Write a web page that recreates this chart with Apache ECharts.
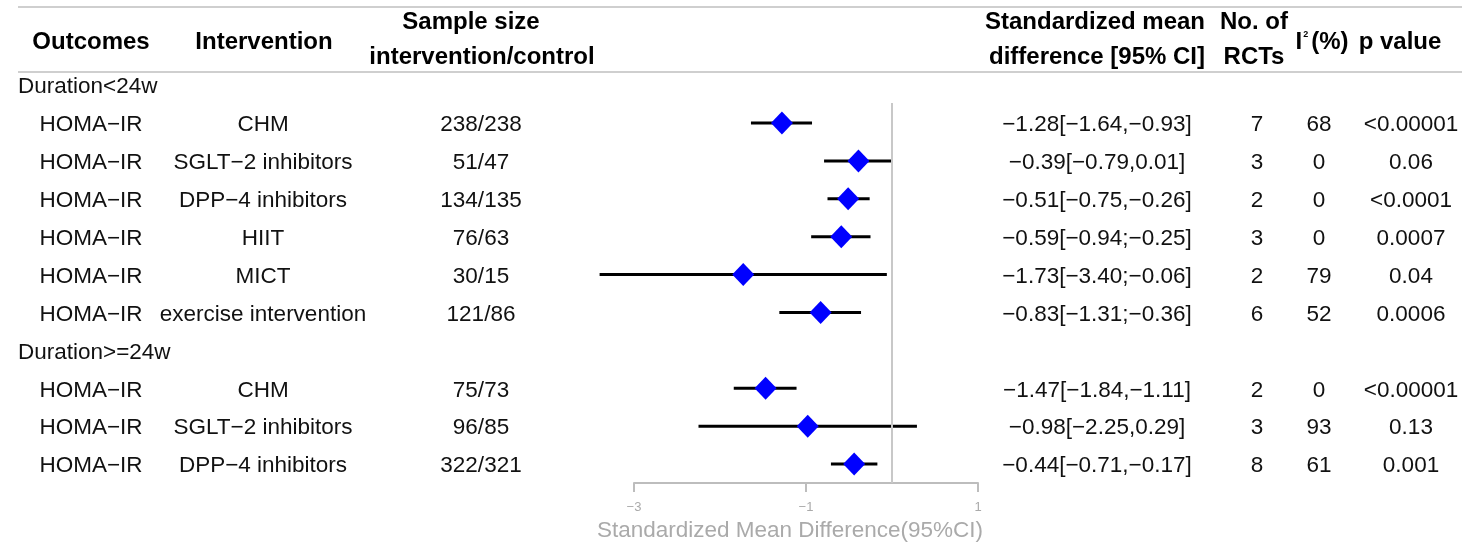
<!DOCTYPE html>
<html>
<head>
<meta charset="utf-8">
<script src="https://cdn.jsdelivr.net/npm/echarts@6/dist/echarts.min.js"></script>
<style>
html,body{margin:0;padding:0;background:#fff;}
#chart{width:1463px;height:542px;}
</style>
</head>
<body>
<div id="chart"></div>
<script>
// ---------- data ----------
const groups = ['Duration<24w', 'Duration>=24w'];
const groupSizes = [6, 3];
const outcomes = ['HOMA−IR','HOMA−IR','HOMA−IR','HOMA−IR','HOMA−IR','HOMA−IR','HOMA−IR','HOMA−IR','HOMA−IR'];
const interventions = ['CHM','SGLT−2 inhibitors','DPP−4 inhibitors','HIIT','MICT','exercise intervention','CHM','SGLT−2 inhibitors','DPP−4 inhibitors'];
const sampleSizes = ['238/238','51/47','134/135','76/63','30/15','121/86','75/73','96/85','322/321'];
const smd = [-1.28,-0.39,-0.51,-0.59,-1.73,-0.83,-1.47,-0.98,-0.44];
const ciLow = [-1.64,-0.79,-0.75,-0.94,-3.40,-1.31,-1.84,-2.25,-0.71];
const ciHigh = [-0.93,0.01,-0.26,-0.25,-0.06,-0.36,-1.11,0.29,-0.17];
const ciText = ['−1.28[−1.64,−0.93]','−0.39[−0.79,0.01]','−0.51[−0.75,−0.26]','−0.59[−0.94;−0.25]','−1.73[−3.40;−0.06]','−0.83[−1.31;−0.36]','−1.47[−1.84,−1.11]','−0.98[−2.25,0.29]','−0.44[−0.71,−0.17]'];
const rcts = ['7','3','2','3','2','6','2','3','8'];
const i2 = ['68','0','0','0','79','52','0','93','61'];
const pValues = ['<0.00001','0.06','<0.0001','0.0007','0.04','0.0006','<0.00001','0.13','0.001'];
const xTicks = [-3, -1, 1];
const axisTitle = 'Standardized Mean Difference(95%CI)';

// ---------- row layout ----------
const groupRows = [];
const dataRows = [];
let r = 0;
groupSizes.forEach((n) => { groupRows.push(r); r++; for (let k = 0; k < n; k++) { dataRows.push(r); r++; } });

const FONT = '"Liberation Sans", Arial, Helvetica, sans-serif';
const GRID_TOP = 103, GRID_BOTTOM_Y = 483, FIRST_ROW_Y = 123, ROW_STEP = 37.9;
const yMin = 1 - (FIRST_ROW_Y - GRID_TOP) / ROW_STEP;
const yMax = 1 + (GRID_BOTTOM_Y - FIRST_ROW_Y) / ROW_STEP;
const TEXT_DY = 2;

function textSeries(rows, texts, x, align, fontSize, color) {
  return {
    type: 'custom',
    coordinateSystem: 'cartesian2d',
    silent: true,
    clip: false,
    z: 5,
    data: rows.map((row) => [0, row]),
    renderItem: function (params, api) {
      const y = api.coord([0, api.value(1)])[1] + TEXT_DY;
      return {
        type: 'text',
        x: x, y: y,
        style: {
          text: texts[params.dataIndex],
          textAlign: align,
          textVerticalAlign: 'middle',
          font: fontSize + 'px ' + FONT,
          fill: color || '#111'
        }
      };
    }
  };
}

const BODY = 22.5;

const series = [
  // CI lines
  {
    type: 'custom',
    coordinateSystem: 'cartesian2d',
    silent: true,
    clip: false,
    z: 3,
    data: dataRows.map((row, i) => [ciLow[i], ciHigh[i], row]),
    renderItem: function (params, api) {
      const p1 = api.coord([api.value(0), api.value(2)]);
      const p2 = api.coord([api.value(1), api.value(2)]);
      return {
        type: 'line',
        shape: { x1: p1[0], y1: p1[1], x2: p2[0], y2: p2[1] },
        style: { stroke: '#000', lineWidth: 3 }
      };
    }
  },
  // point estimates
  {
    type: 'scatter',
    silent: true,
    z: 4,
    symbol: 'diamond',
    symbolSize: [22, 23],
    itemStyle: { color: '#0000FF', opacity: 1 },
    data: dataRows.map((row, i) => [smd[i], row]),
    markLine: {
      silent: true,
      symbol: 'none',
      label: { show: false },
      lineStyle: { color: '#c8c8c8', width: 2, type: 'solid' },
      data: [{ xAxis: 0 }],
      animation: false
    }
  },
  textSeries(groupRows, groups, 18, 'left', BODY),
  textSeries(dataRows, outcomes, 91, 'center', BODY),
  textSeries(dataRows, interventions, 263, 'center', BODY),
  textSeries(dataRows, sampleSizes, 481, 'center', BODY),
  textSeries(dataRows, ciText, 1097, 'center', BODY),
  textSeries(dataRows, rcts, 1257, 'center', BODY),
  textSeries(dataRows, i2, 1319, 'center', BODY),
  textSeries(dataRows, pValues, 1411, 'center', BODY)
];

const HEAD = 'bold 24px ' + FONT;
function headText(txt, x, y) {
  return { type: 'text', x: x, y: y, silent: true,
    style: { text: txt, textAlign: 'center', textVerticalAlign: 'middle', font: HEAD, fill: '#000' } };
}

const option = {
  animation: false,
  backgroundColor: '#fff',
  grid: { left: 634, right: 1463 - 978, top: GRID_TOP, bottom: 542 - GRID_BOTTOM_Y, containLabel: false, outerBoundsMode: 'none' },
  xAxis: {
    type: 'value',
    min: xTicks[0], max: xTicks[xTicks.length - 1], interval: xTicks[1] - xTicks[0],
    splitLine: { show: false },
    axisLine: { show: true, onZero: false, lineStyle: { color: '#bdbdbd', width: 2 } },
    axisTick: { show: true, inside: false, length: 9, lineStyle: { color: '#bdbdbd', width: 2 } },
    axisLabel: { fontSize: 13, color: '#aaa', margin: 18, fontFamily: FONT,
      formatter: (v) => (v < 0 ? '−' : '') + Math.abs(v) },
    name: axisTitle,
    nameLocation: 'middle',
    nameGap: 29,
    nameTextStyle: { fontSize: 22.5, color: '#aaa', fontFamily: FONT, padding: [0, 32, 0, 0] }
  },
  yAxis: { type: 'value', inverse: true, min: yMin, max: yMax, show: false },
  series: series,
  graphic: [
    { type: 'line', silent: true, shape: { x1: 18, y1: 7, x2: 1462, y2: 7 }, style: { stroke: '#cfcfcf', lineWidth: 2 } },
    { type: 'line', silent: true, shape: { x1: 18, y1: 72, x2: 1462, y2: 72 }, style: { stroke: '#cfcfcf', lineWidth: 2 } },
    headText('Outcomes', 91, 42),
    headText('Intervention', 264, 42),
    headText('Sample size', 471, 22),
    headText('intervention/control', 482, 57),
    headText('Standardized mean', 1095, 22),
    headText('difference [95% CI]', 1097, 57),
    headText('No. of', 1254, 22),
    headText('RCTs', 1254, 57),
    { type: 'text', x: 1322, y: 42, silent: true,
      style: { text: '{a|I}{s|2}{a|(%)}', textAlign: 'center', textVerticalAlign: 'middle',
        rich: { a: { font: HEAD, fill: '#000' }, s: { font: 'bold 9px ' + FONT, fill: '#000', verticalAlign: 'top', padding: [0, 3, 10, 1] } } } },
    headText('p value', 1400, 42)
  ]
};

const chart = echarts.init(document.getElementById('chart'), null, { renderer: 'canvas' });
chart.setOption(option);
</script>
</body>
</html>
